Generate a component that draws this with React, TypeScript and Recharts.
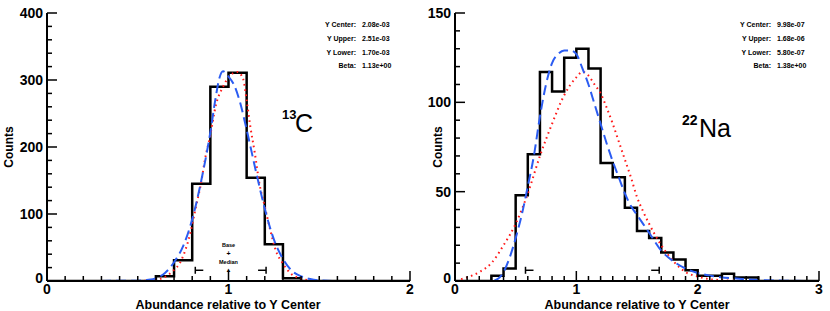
import React from "react";
import { ComposedChart, Line, XAxis, YAxis, ReferenceDot } from "recharts";

// 13C histogram (left edges of bins, stepAfter) and fitted curves
const c13Edges = [0.0, 0.6, 0.7, 0.8, 0.9, 1.0, 1.1, 1.2, 1.3, 1.4, 2.0];
const c13Counts = [0, 7, 31, 145, 290, 311, 154, 55, 4, 0, 0];
const c13RedX = [0.05, 0.5, 0.55, 0.6, 0.65, 0.69, 0.74, 0.79, 0.82, 0.85, 0.87, 0.9, 0.93, 0.97, 1.0, 1.05, 1.08, 1.1, 1.12, 1.145, 1.17, 1.2, 1.23, 1.26, 1.3, 1.34, 1.39, 1.45, 1.5, 1.97];
const c13RedY = [0, 0, 0.5, 2, 6, 14, 31, 72, 110, 148, 181, 218, 262, 290, 304, 312, 302, 270, 231, 191, 146, 111, 76, 46, 26, 12, 4, 1, 0, 0];
const c13BlueX = [0.05, 0.5, 0.55, 0.6, 0.65, 0.7, 0.75, 0.8, 0.85, 0.9, 0.93, 0.95, 0.97, 1.0, 1.03, 1.06, 1.1, 1.15, 1.2, 1.25, 1.3, 1.35, 1.4, 1.45, 1.5, 1.6, 1.97];
const c13BlueY = [0, 0.5, 1.5, 4, 12, 28, 52, 92, 150, 222, 275, 303, 313, 305, 293, 270, 226, 165, 108, 62, 33, 15, 7, 3, 1, 0, 0];
const c13Bounds = [0.817, 1.207];
const c13MarkY = 16;
const c13StatValues = ["2.08e-03", "2.51e-03", "1.70e-03", "1.13e+00"];

// 22Na histogram and fitted curves
const na22Edges = [0.0, 0.3, 0.4, 0.5, 0.6, 0.7, 0.8, 0.9, 1.0, 1.1, 1.2, 1.3, 1.4, 1.5, 1.6, 1.7, 1.8, 1.9, 2.0, 2.2, 2.3, 2.5, 3.0];
const na22Counts = [0, 3, 7, 48, 71, 117, 106, 125, 130, 119, 66, 58, 41, 28, 24, 16, 12, 6, 3, 4, 2, 0, 0];
const na22RedX = [0.05, 0.1, 0.2, 0.3, 0.4, 0.5, 0.6, 0.7, 0.8, 0.9, 1.0, 1.05, 1.1, 1.15, 1.2, 1.25, 1.3, 1.35, 1.4, 1.45, 1.5, 1.55, 1.6, 1.7, 1.8, 1.9, 2.0, 2.1, 2.2, 2.4, 2.97];
const na22RedY = [1, 2, 5, 10, 20, 32, 49, 70, 88, 104, 114, 117, 115, 110, 105, 97, 88, 78, 68, 58, 47, 39, 32, 20, 11, 5, 2.5, 1, 0.5, 0, 0];
const na22BlueX = [0.2, 0.3, 0.35, 0.4, 0.45, 0.5, 0.55, 0.6, 0.65, 0.7, 0.75, 0.8, 0.85, 0.9, 0.95, 1.0, 1.05, 1.1, 1.15, 1.2, 1.25, 1.3, 1.35, 1.4, 1.45, 1.5, 1.55, 1.6, 1.7, 1.8, 1.9, 2.0, 2.1, 2.2, 2.3, 2.5, 2.7, 2.97];
const na22BlueY = [0, 0, 1, 5, 13, 24, 37, 53, 70, 92, 110, 122, 127, 129, 129, 127, 119, 110, 99, 88, 77, 67, 58, 49, 42, 37, 32, 27, 17, 11, 7, 4.5, 3, 2, 1.5, 0.5, 0.2, 0];
const na22Bounds = [0.581, 1.683];
const na22MarkY = 6;
const na22StatValues = ["9.98e-07", "1.68e-06", "5.80e-07", "1.38e+00"];

const statLabels = ["Y Center:", "Y Upper:", "Y Lower:", "Beta:"];

// axis ticks
const c13XTicks = [0, 0.1, 0.2, 0.3, 0.4, 0.5, 0.6, 0.7, 0.8, 0.9, 1, 1.1, 1.2, 1.3, 1.4, 1.5, 1.6, 1.7, 1.8, 1.9, 2];
const c13XMajor = [0, 1, 2];
const c13YTicks = [0, 20, 40, 60, 80, 100, 120, 140, 160, 180, 200, 220, 240, 260, 280, 300, 320, 340, 360, 380, 400];
const c13YMajor = [0, 100, 200, 300, 400];
const na22XTicks = [0, 0.1, 0.2, 0.3, 0.4, 0.5, 0.6, 0.7, 0.8, 0.9, 1, 1.1, 1.2, 1.3, 1.4, 1.5, 1.6, 1.7, 1.8, 1.9, 2, 2.1, 2.2, 2.3, 2.4, 2.5, 2.6, 2.7, 2.8, 2.9, 3];
const na22XMajor = [0, 1, 2, 3];
const na22YTicks = [0, 10, 20, 30, 40, 50, 60, 70, 80, 90, 100, 110, 120, 130, 140, 150];
const na22YMajor = [0, 50, 100, 150];

const FONT = "'Liberation Sans', Arial, Helvetica, sans-serif";
const BLUE = "#2b5cf2";
const RED = "#ff1a1a";

const zip = (xs: number[], ys: number[]) => xs.map((x, i) => ({ x, y: ys[i] }));

function edgeTick(side: string, majors: number[], labels: boolean) {
  return (props: any) => {
    const { x, y, payload } = props;
    const v = payload.value;
    const major = majors.some((m) => Math.abs(m - v) < 1e-9);
    const len = major ? 10 : 5;
    let line = null;
    let label = null;
    if (side === "bottom") {
      line = <line x1={x} y1={y} x2={x} y2={y - len} />;
      if (labels && major)
        label = <text x={x} y={y + 12.5} textAnchor="middle">{v}</text>;
    } else if (side === "top") {
      line = <line x1={x} y1={y} x2={x} y2={y + len} />;
    } else if (side === "left") {
      line = <line x1={x} y1={y} x2={x + len} y2={y} />;
      if (labels && major)
        label = <text x={x - 4} y={v === 0 ? y - 3 : y} textAnchor="end" dominantBaseline="central">{v}</text>;
    } else {
      line = <line x1={x} y1={y} x2={x - len} y2={y} />;
    }
    return (
      <g>
        <g stroke="#000" strokeWidth={1.5}>{line}</g>
        {label && <g fill="#000" fontSize={14} fontWeight="bold" fontFamily={FONT}>{label}</g>}
      </g>
    );
  };
}

function boundMark(dir: number) {
  return (p: any) => (
    <g stroke="#000" strokeWidth={1.5}>
      <line x1={p.cx} y1={p.cy - 3.5} x2={p.cx} y2={p.cy + 3.5} />
      <line x1={p.cx} y1={p.cy} x2={p.cx + dir * 8} y2={p.cy} />
    </g>
  );
}

const baseMedian = (p: any) => (
  <g fill="#000" fontFamily={FONT} fontWeight="bold" textAnchor="middle" fontSize={5.5}>
    <text x={p.cx} y={p.cy - 23}>Base</text>
    <text x={p.cx} y={p.cy - 14.5} fontSize={7}>+</text>
    <text x={p.cx} y={p.cy - 6.5}>Median</text>
    <text x={p.cx} y={p.cy + 2} fontSize={6}>▲</text>
  </g>
);

function Panel(props: any) {
  const { left, width, yWidth, mRight, xMax, yMax, xTicks, xMajor, yTicks, yMajor,
    edges, counts, redX, redY, blueX, blueY, bounds, markY, showBase } = props;
  const axisLine = { stroke: "#000", strokeWidth: 2 };
  return (
    <div style={{ position: "absolute", left, top: 0 }}>
      <ComposedChart width={width} height={311} margin={{ top: 13, right: mRight, bottom: 0, left: 0 }}>
        <XAxis xAxisId="b" dataKey="x" type="number" domain={[0, xMax]} allowDataOverflow ticks={xTicks} interval={0}
          height={30} tickLine={false} tickSize={0} tickMargin={0} axisLine={axisLine} tick={edgeTick("bottom", xMajor, true)} />
        <XAxis xAxisId="t" dataKey="x" type="number" orientation="top" domain={[0, xMax]} allowDataOverflow ticks={xTicks} interval={0}
          height={0} tickLine={false} tickSize={0} tickMargin={0} axisLine={axisLine} tick={edgeTick("top", xMajor, false)} />
        <YAxis yAxisId="l" type="number" domain={[0, yMax]} allowDataOverflow ticks={yTicks} interval={0}
          width={yWidth} tickLine={false} tickSize={0} tickMargin={0} axisLine={axisLine} tick={edgeTick("left", yMajor, true)} />
        <YAxis yAxisId="r" type="number" orientation="right" domain={[0, yMax]} allowDataOverflow ticks={yTicks} interval={0}
          width={0} tickLine={false} tickSize={0} tickMargin={0} axisLine={axisLine} tick={edgeTick("right", yMajor, false)} />
        <Line xAxisId="b" yAxisId="l" data={zip(edges, counts)} dataKey="y" type="stepAfter" stroke="#000" strokeWidth={2.5}
          dot={false} activeDot={false} isAnimationActive={false} strokeLinejoin="miter" />
        <Line xAxisId="b" yAxisId="l" data={zip(redX, redY)} dataKey="y" type="monotone" stroke={RED} strokeWidth={2}
          strokeDasharray="1.6 3.6" dot={false} activeDot={false} isAnimationActive={false} />
        <Line xAxisId="t" yAxisId="r" data={zip(blueX, blueY)} dataKey="y" type="monotone" stroke={BLUE} strokeWidth={2}
          strokeDasharray="10 5" dot={false} activeDot={false} isAnimationActive={false} />
        <ReferenceDot xAxisId="b" yAxisId="l" x={bounds[0]} y={markY} r={0} shape={boundMark(1)} />
        <ReferenceDot xAxisId="b" yAxisId="l" x={bounds[1]} y={markY} r={0} shape={boundMark(-1)} />
        {showBase && <ReferenceDot xAxisId="b" yAxisId="l" x={1} y={markY} r={0} shape={baseMedian} />}
      </ComposedChart>
    </div>
  );
}

function Stats({ xEnd, values }: { xEnd: number; values: string[] }) {
  const ys = [27, 41, 55, 68];
  return (
    <g fontFamily={FONT} fontSize={7} fontWeight="bold" fill="#000">
      {statLabels.map((l, i) => (
        <text key={l} x={xEnd} y={ys[i]} textAnchor="end">{l}</text>
      ))}
      {values.map((v, i) => (
        <text key={i} x={xEnd + 6} y={ys[i]}>{v}</text>
      ))}
    </g>
  );
}

export default function App() {
  return (
    <div style={{ position: "absolute", left: 0, top: 0, width: 830, height: 311, background: "#fff", overflow: "hidden" }}>
      <Panel left={0} width={415} yWidth={47} mRight={5} xMax={2} yMax={400}
        xTicks={c13XTicks} xMajor={c13XMajor} yTicks={c13YTicks} yMajor={c13YMajor}
        edges={c13Edges} counts={c13Counts} redX={c13RedX} redY={c13RedY} blueX={c13BlueX} blueY={c13BlueY}
        bounds={c13Bounds} markY={c13MarkY} showBase />
      <Panel left={415} width={415} yWidth={40} mRight={11} xMax={3} yMax={150}
        xTicks={na22XTicks} xMajor={na22XMajor} yTicks={na22YTicks} yMajor={na22YMajor}
        edges={na22Edges} counts={na22Counts} redX={na22RedX} redY={na22RedY} blueX={na22BlueX} blueY={na22BlueY}
        bounds={na22Bounds} markY={na22MarkY} showBase={false} />
      <svg width={830} height={311} style={{ position: "absolute", left: 0, top: 0, pointerEvents: "none" }}>
        <g fontFamily={FONT} fontWeight="bold" fill="#000" fontSize={12}>
          <text transform="translate(9,147) rotate(-90)" textAnchor="middle" dominantBaseline="central">Counts</text>
          <text transform="translate(438,147) rotate(-90)" textAnchor="middle" dominantBaseline="central">Counts</text>
          <text x={228} y={308.5} textAnchor="middle" fontSize={12.5}>Abundance relative to Y Center</text>
          <text x={637} y={308.5} textAnchor="middle" fontSize={12.5}>Abundance relative to Y Center</text>
        </g>
        <Stats xEnd={356} values={c13StatValues} />
        <Stats xEnd={771} values={na22StatValues} />
        <g fontFamily={FONT} fill="#000">
          <text x={282} y={118.5} fontSize={13} fontWeight="bold">13</text>
          <text x={295} y={131.5} fontSize={25}>C</text>
          <text x={682} y={124.5} fontSize={14} fontWeight="bold">22</text>
          <text x={699} y={137} fontSize={25}>Na</text>
        </g>
      </svg>
    </div>
  );
}
